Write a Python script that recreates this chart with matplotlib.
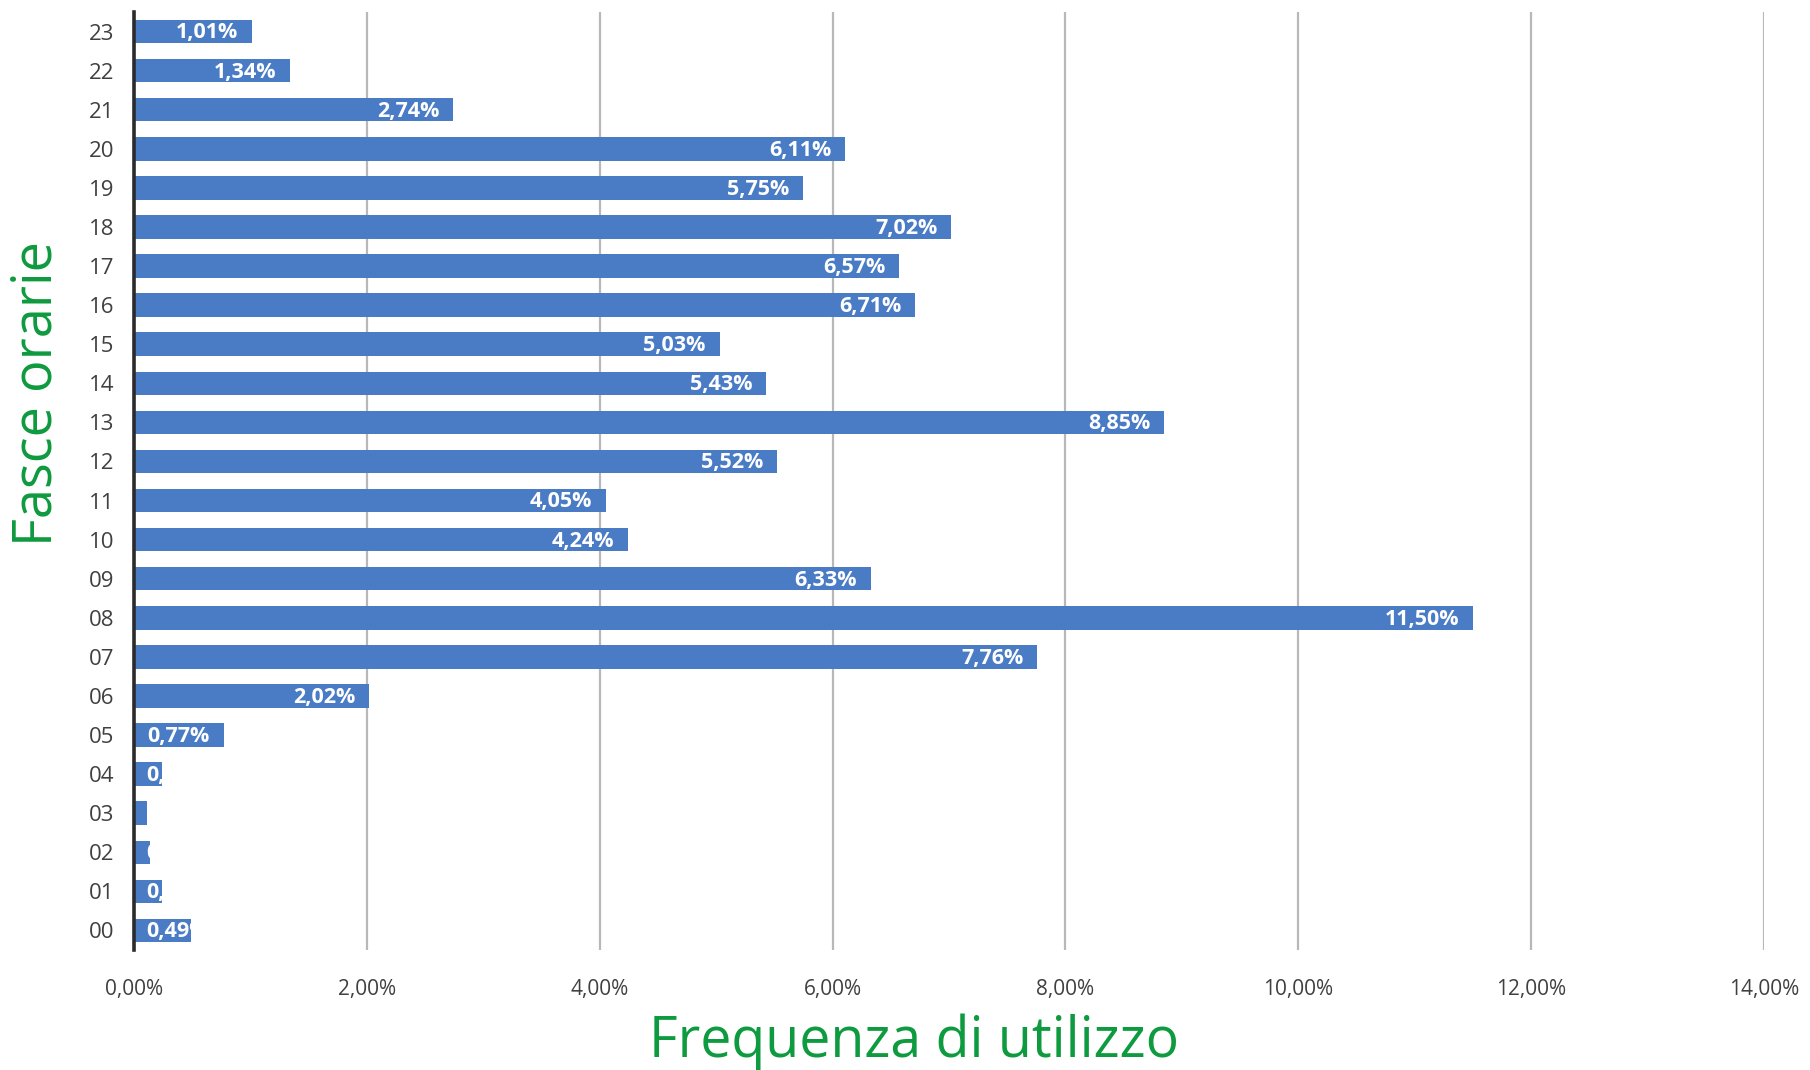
import matplotlib.pyplot as plt
from matplotlib.ticker import FuncFormatter

# ─── Data ────────────────────────────────────────────────────────────────────
HOURS = ["00", "01", "02", "03", "04", "05", "06", "07", "08", "09", "10", "11",
         "12", "13", "14", "15", "16", "17", "18", "19", "20", "21", "22", "23"]
FREQ = [0.49, 0.24, 0.14, 0.11, 0.24, 0.77, 2.02, 7.76, 11.50, 6.33, 4.24, 4.05,
        5.52, 8.85, 5.43, 5.03, 6.71, 6.57, 7.02, 5.75, 6.11, 2.74, 1.34, 1.01]
X_TICKS = [0, 2, 4, 6, 8, 10, 12, 14]

BAR_COLOR = "#4a7cc6"
GREEN = "#0e9a3e"
FONT = "Open Sans"


def pct(v):
    return f"{v:.2f}%".replace(".", ",")


fig = plt.figure(figsize=(18.1, 10.7), dpi=100)
ax = fig.add_axes([134 / 1810, 1 - 950 / 1070, 1630 / 1810, 938 / 1070])

ypos = list(range(len(HOURS)))
bars = ax.barh(ypos, FREQ, height=0.6, color=BAR_COLOR, zorder=3)

# labels inside bar end; small bars get a left-anchored, clipped label
for bar, v in zip(bars, FREQ):
    yc = bar.get_y() + bar.get_height() / 2
    if v >= 0.6:
        t = ax.annotate(pct(v), (v, yc), xytext=(-10, -1), textcoords="offset points",
                        ha="right", va="center", color="white", fontsize=15.5,
                        fontweight="bold", family=FONT, zorder=4)
    else:
        t = ax.annotate(pct(v), (0, yc), xytext=(9, -1), textcoords="offset points",
                        ha="left", va="center", color="white", fontsize=15.5,
                        fontweight="bold", family=FONT, zorder=4)
        t.set_clip_path(bar)

ax.set_yticks(ypos)
ax.set_yticklabels(HOURS)
ax.set_ylim(-0.5, 23.5)
ax.set_xlim(0, 14)
ax.set_xticks(X_TICKS)
ax.xaxis.set_major_formatter(FuncFormatter(lambda v, _: pct(v)))

for lab in ax.get_xticklabels():
    lab.set_family(FONT)
    lab.set_fontsize(15)
    lab.set_color("#404040")
for lab in ax.get_yticklabels():
    lab.set_family(FONT)
    lab.set_fontsize(16)
    lab.set_color("#404040")

ax.tick_params(axis="both", length=0)
ax.tick_params(axis="x", pad=21)
ax.tick_params(axis="y", pad=14)

ax.grid(axis="x", color="#b8b8b8", linewidth=1.6, zorder=0)
for s in ["top", "right", "bottom"]:
    ax.spines[s].set_visible(False)
ax.spines["left"].set_color("#2b2b2b")
ax.spines["left"].set_linewidth(2.6)
ax.spines["left"].set_zorder(5)

fig.text(37 / 1810, 1 - 393 / 1070, "Fasce orarie", rotation=90, ha="center", va="center",
         color=GREEN, fontsize=39, family=FONT)
fig.text(914 / 1810, 1 - 1042 / 1070, "Frequenza di utilizzo", ha="center", va="center",
         color=GREEN, fontsize=40, family=FONT)

fig.savefig("out.png", dpi=100)
